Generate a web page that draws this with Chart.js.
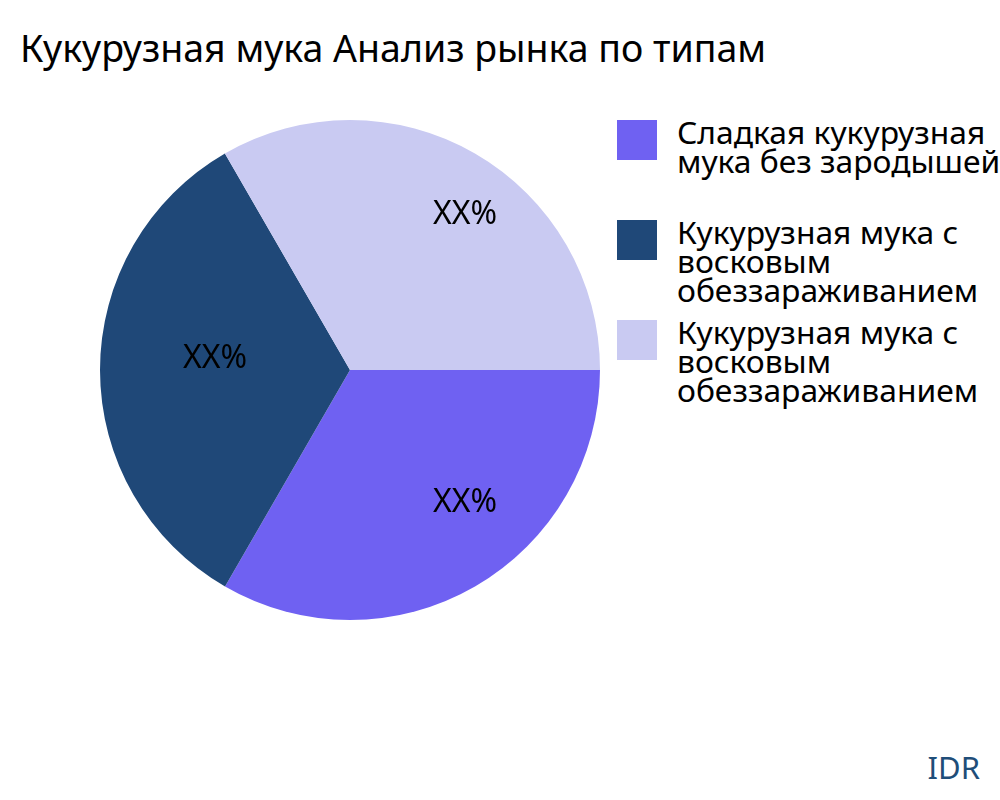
<!DOCTYPE html>
<html>
<head>
<meta charset="utf-8">
<script src="https://cdn.jsdelivr.net/npm/chart.js@4"></script>
<style>
body { margin: 0; width: 1000px; height: 800px; background: #fff; font-family: "Noto Sans", sans-serif; position: relative; overflow: hidden; }
#title { position: absolute; left: 20px; top: 22px; font-size: 37.5px; color: #000; }
#wrap { position: absolute; left: 90px; top: 110px; width: 520px; height: 520px; }
.leg { position: absolute; left: 617px; }
.sw { position: absolute; left: 0; top: 0; width: 40px; height: 40px; }
.lt { position: absolute; left: 60px; top: -3px; font-size: 31.8px; line-height: 29px; white-space: nowrap; color: #000; }
#idr { position: absolute; right: 20px; bottom: 12px; font-size: 31px; color: #1f4e79; }
</style>
</head>
<body>
<div id="title">Кукурузная мука Анализ рынка по типам</div>
<div id="wrap"><canvas id="pie"></canvas></div>
<div id="legend"></div>
<div id="idr">IDR</div>
<script>
const categories = [
  ["Сладкая кукурузная", "мука без зародышей"],
  ["Кукурузная мука с", "восковым", "обеззараживанием"],
  ["Кукурузная мука с", "восковым", "обеззараживанием"]
];
const values = [33.33, 33.33, 33.34];
const sliceLabels = ["XX%", "XX%", "XX%"];
const colors = ["#6f61f2", "#1f4878", "#c9caf2"];
const legendTops = [120, 220, 320];
// label placement as fractions of the radius (x, y)
const labelFx = [0.92, 0.54, 0.92];
const labelFy = [0.665, 0.665, 0.665];

const legend = document.getElementById("legend");
categories.forEach(function (c, i) {
  const d = document.createElement("div");
  d.className = "leg";
  d.style.top = legendTops[i] + "px";
  d.innerHTML = '<div class="sw" style="background:' + colors[i] + '"></div><div class="lt">' + c.join("<br>") + "</div>";
  legend.appendChild(d);
});

const labelPlugin = {
  id: "sliceLabels",
  afterDatasetsDraw(chart) {
    const ctx = chart.ctx;
    ctx.save();
    ctx.font = '32px "Noto Sans"';
    ctx.fillStyle = "#000";
    ctx.textAlign = "center";
    ctx.textBaseline = "middle";
    chart.getDatasetMeta(0).data.forEach(function (arc, i) {
      const mid = (arc.startAngle + arc.endAngle) / 2;
      const r = arc.outerRadius;
      const x = arc.x + Math.cos(mid) * r * labelFx[i];
      const y = arc.y + Math.sin(mid) * r * labelFy[i];
      ctx.fillText(sliceLabels[i], x, y - 11);
    });
    ctx.restore();
  }
};

new Chart(document.getElementById("pie"), {
  type: "pie",
  data: {
    labels: categories.map(c => c.join(" ")),
    datasets: [{ data: values, backgroundColor: colors, borderWidth: 0 }]
  },
  options: {
    responsive: true,
    maintainAspectRatio: false,
    animation: false,
    rotation: 90,
    layout: { padding: 10 },
    plugins: { legend: { display: false }, tooltip: { enabled: false } }
  },
  plugins: [labelPlugin]
});
</script>
</body>
</html>
